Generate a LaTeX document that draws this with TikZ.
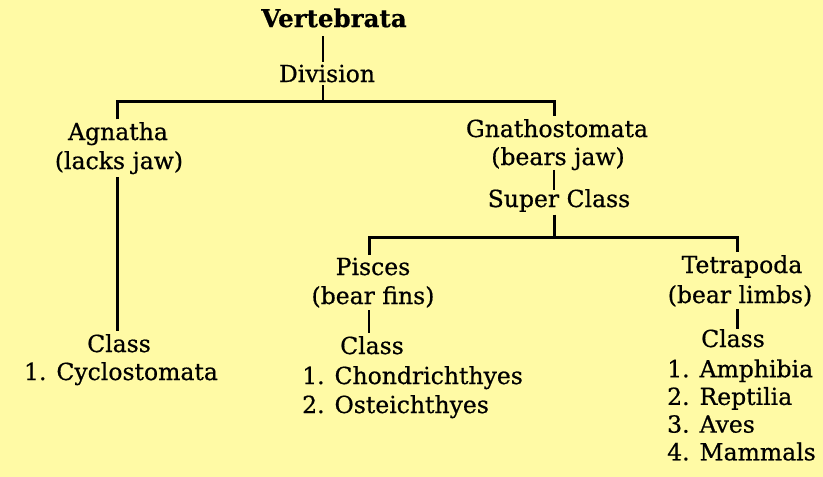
\documentclass[tikz,border=0pt]{standalone}
\usepackage{fontspec}
\setmainfont{DejaVu Serif}[FakeBold=0.6]
\usepackage{xcolor}
\usepackage{tikz}
\definecolor{bgyellow}{RGB}{255,250,165}

\begin{document}
\begin{tikzpicture}[x=1pt,y=-1pt,
    every node/.style={font=\fontsize{23.5}{29}\selectfont, inner sep=2.5pt, anchor=base},
    titletext/.style={font=\fontsize{24.5}{29}\selectfont\bfseries},
    thinlink/.style={line width=1.8pt},
    thicklink/.style={line width=3pt}]
    %背景
    \fill[bgyellow] (0,0) rectangle (823,477);
    %各连线的竖直位置
    \coordinate (c0) at (323,101);
    \coordinate (c1) at (554,237);
    \coordinate (cA) at (117,0);
    \coordinate (cG) at (554,0);
    \coordinate (cP) at (369,0);
    \coordinate (cT) at (737,0);
    %第一层
    \node[titletext] (vert) at (334,27) {Vertebrata};
    \node (div) at (327,82) {Division};
    %第二层
    \node (agn) at (118,140) {Agnatha};
    \node (agnjaw) at (119,169) {(lacks jaw)};
    \node (gna) at (557,137) {Gnathostomata};
    \node (gnajaw) at (558,165) {(bears jaw)};
    \node (super) at (559,207) {Super Class};
    %第三层
    \node (pis) at (373,275) {Pisces};
    \node (pisfin) at (373,304) {(bear fins)};
    \node (tet) at (742,273) {Tetrapoda};
    \node (tetlimb) at (740,303) {(bear limbs)};
    %各纲
    \node (agnclass) at (119,352) {Class};
    \node (cyc) at (121,380) {1. Cyclostomata};
    \node (pisclass) at (372,354) {Class};
    \foreach \t [count=\i] in {Chondrichthyes, Osteichthyes}
        {\node[anchor=base west] (pis\i) at (299.5,355+29*\i) {\i. \t};}
    \node (tetclass) at (733,347) {Class};
    \foreach \t [count=\i] in {Amphibia, Reptilia, Aves, Mammals}
        {\node[anchor=base west] (tet\i) at (664.5,349.5+27.7*\i) {\i. \t};}
    %连线
    \draw[thinlink, shorten <=6pt] (vert.south -| c0) -- (div.north -| c0);
    \draw[thinlink] (div.south -| c0) -- (c0);
    \draw[thicklink] (agn.north -| cA) |- (c0) -| (gna.north -| cG);
    \draw[thicklink] (agnjaw.south -| cA) -- (agnclass.north -| cA);
    \draw[thinlink, shorten <=-3pt, shorten >=-4pt] (gnajaw.south -| cG) -- (super.north -| cG);
    \draw[thicklink] (super.south -| cG) -- (c1);
    \draw[thicklink] (pis.north -| cP) |- (c1) -| (tet.north -| cT);
    \draw[thinlink] (pisfin.south -| cP) -- (pisclass.north -| cP);
    \draw[thicklink, shorten >=-3pt] (tetlimb.south -| cT) -- (tetclass.north -| cT);
\end{tikzpicture}
\end{document}
